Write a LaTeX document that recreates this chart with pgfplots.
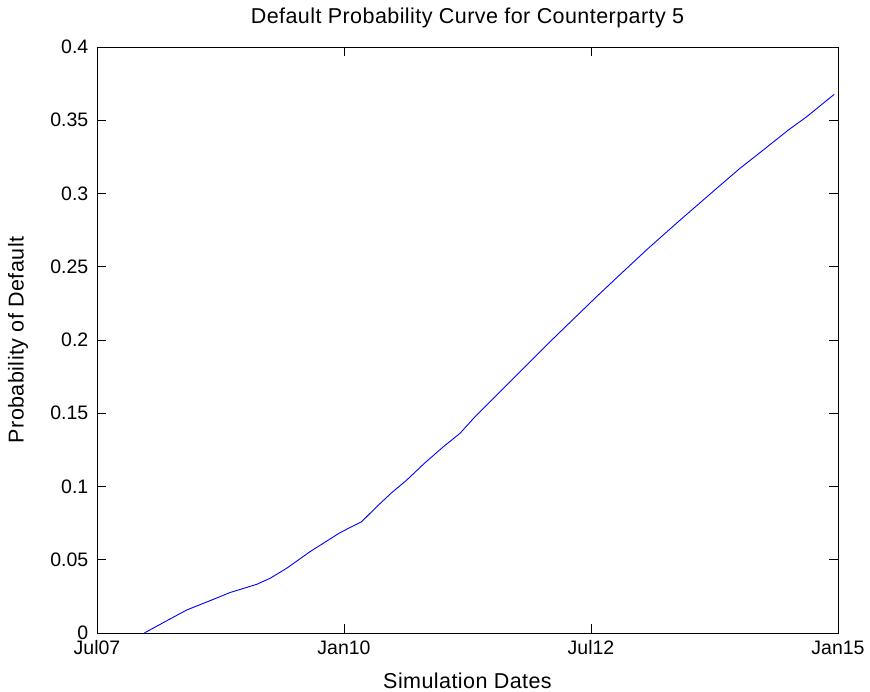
\documentclass[border=0pt]{standalone}
\usepackage{pgfplots}
\pgfplotsset{compat=1.18}
\usepackage{fontspec}
\setmainfont{Liberation Sans}
\newcommand{\lblfont}{\fontsize{21.5bp}{24bp}\selectfont\addfontfeature{LetterSpace=2}}
\begin{document}
\fontsize{19.5bp}{23bp}\selectfont
\begin{tikzpicture}
\useasboundingbox (-97bp,-59bp) rectangle (773bp,633bp);
\begin{axis}[
  at={(0,0)}, anchor=south west,
  scale only axis,
  width=741bp, height=586bp,
  xmin=2007.5, xmax=2015, ymin=0, ymax=0.4,
  xtick={2007.5,2010,2012.5,2015},
  xticklabels={Jul07,Jan10,Jul12,Jan15},
  ytick={0,0.05,0.1,0.15,0.2,0.25,0.3,0.35,0.4},
  yticklabels={0,0.05,0.1,0.15,0.2,0.25,0.3,0.35,0.4},
  tick align=inside,
  major tick length=9bp,
  tick style={black, line width=0.8bp},
  axis line style={black, line width=0.9bp},
  xtick pos=both, ytick pos=both,
  tick label style={font=\fontsize{19.5bp}{23bp}\selectfont, text=black},
  yticklabel style={xshift=-2bp},
  xticklabel style={yshift=-1bp},
  title={Default Probability Curve for Counterparty 5},
  title style={at={(axis description cs:0.5,1.0392)}, anchor=center, font=\lblfont},
  xlabel={Simulation Dates},
  ylabel={Probability of Default},
  every axis x label/.style={at={(axis description cs:0.5,-0.0820)}, anchor=center, font=\lblfont},
  every axis y label/.style={at={(axis description cs:-0.1066,0.5)}, rotate=90, anchor=center, font=\lblfont},
]
\addplot[color={rgb,255:red,0;green,0;blue,255}, line width=0.9bp, mark=none] coordinates {
(2007.979,0.0000)
(2008.188,0.0077)
(2008.408,0.0157)
(2008.745,0.0248)
(2008.846,0.0276)
(2009.116,0.0332)
(2009.251,0.0373)
(2009.420,0.0442)
(2009.656,0.0555)
(2009.960,0.0685)
(2010.179,0.0760)
(2010.331,0.0862)
(2010.483,0.0958)
(2010.635,0.1044)
(2010.820,0.1162)
(2011.005,0.1271)
(2011.174,0.1363)
(2011.326,0.1476)
(2012.085,0.1988)
(2012.574,0.2307)
(2012.844,0.2478)
(2013.080,0.2626)
(2013.384,0.2808)
(2013.772,0.3035)
(2014.008,0.3172)
(2014.244,0.3297)
(2014.497,0.3433)
(2014.683,0.3524)
(2014.962,0.3677)
};
\end{axis}
\end{tikzpicture}
\end{document}
